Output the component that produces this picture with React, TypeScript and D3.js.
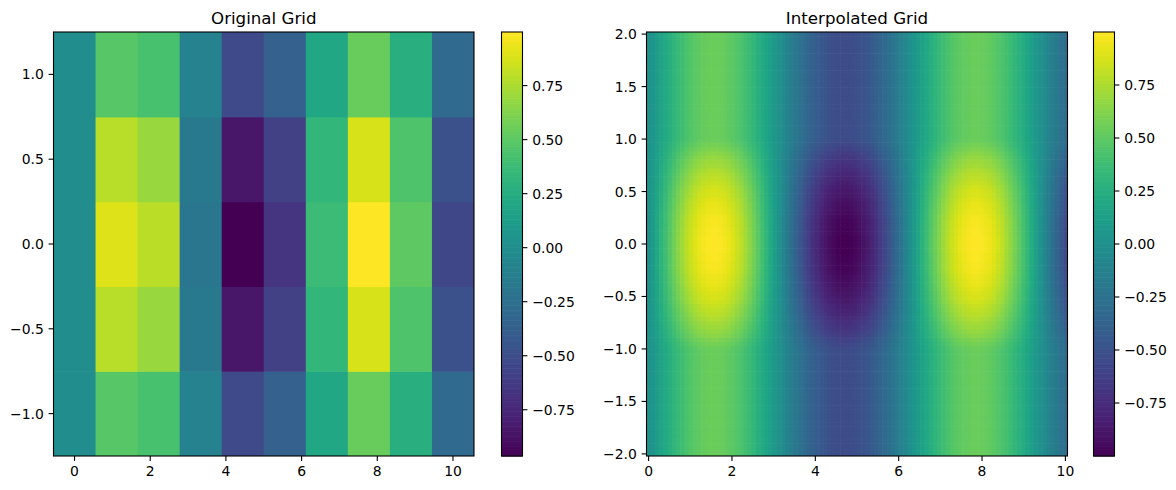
import React from "react";
import * as d3 from "d3";

// ---------- Original grid (10 columns x 5 rows) ----------
const origXExtent = [-0.5556, 10.5556];
const origYExtent = [-1.25, 1.25];
// rows from y = -1.0 (bottom) to y = 1.0 (top)
const origRowYm10 = [0, 0.484, 0.43, -0.103, -0.521, -0.359, 0.202, 0.539, 0.276, -0.294];
const origRowYm05 = [0, 0.786, 0.698, -0.167, -0.846, -0.584, 0.329, 0.876, 0.448, -0.477];
const origRowY00 = [0, 0.896, 0.795, -0.19, -0.964, -0.665, 0.375, 0.998, 0.51, -0.544];
const origRowYp05 = [0, 0.786, 0.698, -0.167, -0.846, -0.584, 0.329, 0.876, 0.448, -0.477];
const origRowYp10 = [0, 0.484, 0.43, -0.103, -0.521, -0.359, 0.202, 0.539, 0.276, -0.294];
const origGrid = [origRowYm10, origRowYm05, origRowY00, origRowYp05, origRowYp10];

// ---------- Interpolated grid (100 x 100), read as column and row profiles ----------
const interpXExtent = [-0.0505, 10.0505];
const interpYExtent = [-2.0202, 2.0202];
const interpColumnProfile = [
  0.0, 0.1, 0.2, 0.3, 0.39, 0.48, 0.57, 0.65, 0.72, 0.79,
  0.85, 0.9, 0.94, 0.97, 0.99, 1.0, 1.0, 0.99, 0.97, 0.94,
  0.9, 0.85, 0.8, 0.73, 0.66, 0.58, 0.49, 0.4, 0.31, 0.21,
  0.11, 0.01, -0.09, -0.19, -0.29, -0.38, -0.47, -0.56, -0.64, -0.72,
  -0.78, -0.84, -0.89, -0.93, -0.96, -0.99, -1.0, -1.0, -0.99, -0.97,
  -0.94, -0.9, -0.86, -0.8, -0.74, -0.66, -0.59, -0.5, -0.41, -0.32,
  -0.22, -0.12, -0.02, 0.08, 0.18, 0.28, 0.37, 0.47, 0.55, 0.63,
  0.71, 0.78, 0.84, 0.89, 0.93, 0.96, 0.98, 1.0, 1.0, 0.99,
  0.97, 0.95, 0.91, 0.86, 0.81, 0.74, 0.67, 0.59, 0.51, 0.42,
  0.33, 0.23, 0.13, 0.03, -0.07, -0.17, -0.27, -0.36, -0.46, -0.54,
];
// rows from y = -2 (bottom) to y = 2 (top)
const interpRowProfile = [
  0.54, 0.54, 0.54, 0.54, 0.54, 0.54, 0.54, 0.54, 0.54, 0.54,
  0.54, 0.54, 0.54, 0.54, 0.54, 0.54, 0.54, 0.54, 0.54, 0.54,
  0.54, 0.54, 0.54, 0.54, 0.54, 0.55, 0.58, 0.61, 0.65, 0.68,
  0.71, 0.73, 0.76, 0.79, 0.81, 0.83, 0.86, 0.88, 0.89, 0.91,
  0.93, 0.94, 0.95, 0.97, 0.98, 0.98, 0.99, 0.99, 1.0, 1.0,
  1.0, 1.0, 0.99, 0.99, 0.98, 0.98, 0.97, 0.95, 0.94, 0.93,
  0.91, 0.89, 0.88, 0.86, 0.83, 0.81, 0.79, 0.76, 0.73, 0.71,
  0.68, 0.65, 0.61, 0.58, 0.55, 0.54, 0.54, 0.54, 0.54, 0.54,
  0.54, 0.54, 0.54, 0.54, 0.54, 0.54, 0.54, 0.54, 0.54, 0.54,
  0.54, 0.54, 0.54, 0.54, 0.54, 0.54, 0.54, 0.54, 0.54, 0.54,
];

// ---------- Tick labels ----------
const xTicks = [0, 2, 4, 6, 8, 10];
const origYTicks = [-1.0, -0.5, 0.0, 0.5, 1.0];
const interpYTicks = [-2.0, -1.5, -1.0, -0.5, 0.0, 0.5, 1.0, 1.5, 2.0];
const cbTicks = [-0.75, -0.5, -0.25, 0.0, 0.25, 0.5, 0.75];

const FONT = "DejaVu Sans, sans-serif";
const TICK_FS = 13.9;
const TITLE_FS = 16.67;
const TICK_LEN = 4.9;
const TOP = 32;
const BOTTOM = 456;

const fmtMinus = (s: string) => s.replace("-", "\u2212");

type Grid = number[][]; // rows bottom -> top

function Heatmap(props: {
  left: number;
  right: number;
  cbLeft: number;
  cbRight: number;
  title: string;
  grid: Grid;
  xExtent: number[];
  yExtent: number[];
  yTicks: number[];
  yFmt: (v: number) => string;
}) {
  const { left, right, cbLeft, cbRight, title, grid, xExtent, yExtent, yTicks, yFmt } = props;
  const x = d3.scaleLinear().domain(xExtent).range([left, right]);
  const y = d3.scaleLinear().domain(yExtent).range([BOTTOM, TOP]);
  const nRows = grid.length;
  const nCols = grid[0].length;
  const all = grid.flat();
  const vmin = d3.min(all) as number;
  const vmax = d3.max(all) as number;
  const color = d3.scaleSequential(d3.interpolateViridis).domain([vmin, vmax]);
  const colScale = d3.scaleLinear().domain([0, nCols]).range([left, right]);
  const rowScale = d3.scaleLinear().domain([0, nRows]).range([BOTTOM, TOP]);
  const cbY = d3.scaleLinear().domain([vmin, vmax]).range([BOTTOM, TOP]);
  const cbSteps = d3.range(256);
  const cbStepScale = d3.scaleLinear().domain([0, 256]).range([vmin, vmax]);

  const cells: React.ReactNode[] = [];
  grid.forEach((row, r) => {
    row.forEach((v, c) => {
      const x0 = colScale(c);
      const x1 = colScale(c + 1);
      const y0 = rowScale(r + 1);
      const y1 = rowScale(r);
      cells.push(
        <rect
          key={`${r}-${c}`}
          x={x0}
          y={y0}
          width={x1 - x0 + (c < nCols - 1 ? 0.6 : 0)}
          height={y1 - y0 + (r > 0 ? 0.6 : 0)}
          fill={color(v)}
        />
      );
    });
  });

  return (
    <g>
      {cells}
      <rect x={left} y={TOP} width={right - left} height={BOTTOM - TOP} fill="none" stroke="#000" strokeWidth={1.1} />
      {xTicks.map((t) => (
        <g key={`xt${t}`}>
          <line x1={x(t)} x2={x(t)} y1={BOTTOM} y2={BOTTOM + TICK_LEN} stroke="#000" strokeWidth={1.1} />
          <text x={x(t)} y={BOTTOM + 20} fontSize={TICK_FS} fontFamily={FONT} textAnchor="middle" fill="#000">
            {String(t)}
          </text>
        </g>
      ))}
      {yTicks.map((t) => (
        <g key={`yt${t}`}>
          <line x1={left - TICK_LEN} x2={left} y1={y(t)} y2={y(t)} stroke="#000" strokeWidth={1.1} />
          <text x={left - 9.7} y={y(t)} dy="0.36em" fontSize={TICK_FS} fontFamily={FONT} textAnchor="end" fill="#000">
            {fmtMinus(yFmt(t))}
          </text>
        </g>
      ))}
      <text x={(left + right) / 2} y={TOP - 8.5} fontSize={TITLE_FS} fontFamily={FONT} textAnchor="middle" fill="#000">
        {title}
      </text>
      {/* colorbar */}
      {cbSteps.map((i) => {
        const ya = cbY(cbStepScale(i + 1));
        const yb = cbY(cbStepScale(i));
        return (
          <rect key={`cb${i}`} x={cbLeft} y={ya} width={cbRight - cbLeft} height={yb - ya + 0.6} fill={color(cbStepScale(i + 0.5))} />
        );
      })}
      <rect x={cbLeft} y={TOP} width={cbRight - cbLeft} height={BOTTOM - TOP} fill="none" stroke="#000" strokeWidth={1.1} />
      {cbTicks.map((t) => (
        <g key={`cbt${t}`}>
          <line x1={cbRight} x2={cbRight + TICK_LEN} y1={cbY(t)} y2={cbY(t)} stroke="#000" strokeWidth={1.1} />
          <text x={cbRight + 9.7} y={cbY(t)} dy="0.36em" fontSize={TICK_FS} fontFamily={FONT} textAnchor="start" fill="#000">
            {fmtMinus(t.toFixed(2))}
          </text>
        </g>
      ))}
    </g>
  );
}

export default function App() {
  const interpGrid: Grid = interpRowProfile.map((rv) => interpColumnProfile.map((cv) => cv * rv));
  return (
    <svg
      width={1176}
      height={490}
      style={{ position: "absolute", left: 0, top: 0, background: "#fff" }}
    >
      <rect x={0} y={0} width={1176} height={490} fill="#fff" />
      <Heatmap
        left={53.5}
        right={474}
        cbLeft={501.5}
        cbRight={522.5}
        title="Original Grid"
        grid={origGrid}
        xExtent={origXExtent}
        yExtent={origYExtent}
        yTicks={origYTicks}
        yFmt={(v) => v.toFixed(1)}
      />
      <Heatmap
        left={646.5}
        right={1067.5}
        cbLeft={1093.5}
        cbRight={1114.5}
        title="Interpolated Grid"
        grid={interpGrid}
        xExtent={interpXExtent}
        yExtent={interpYExtent}
        yTicks={interpYTicks}
        yFmt={(v) => v.toFixed(1)}
      />
    </svg>
  );
}
